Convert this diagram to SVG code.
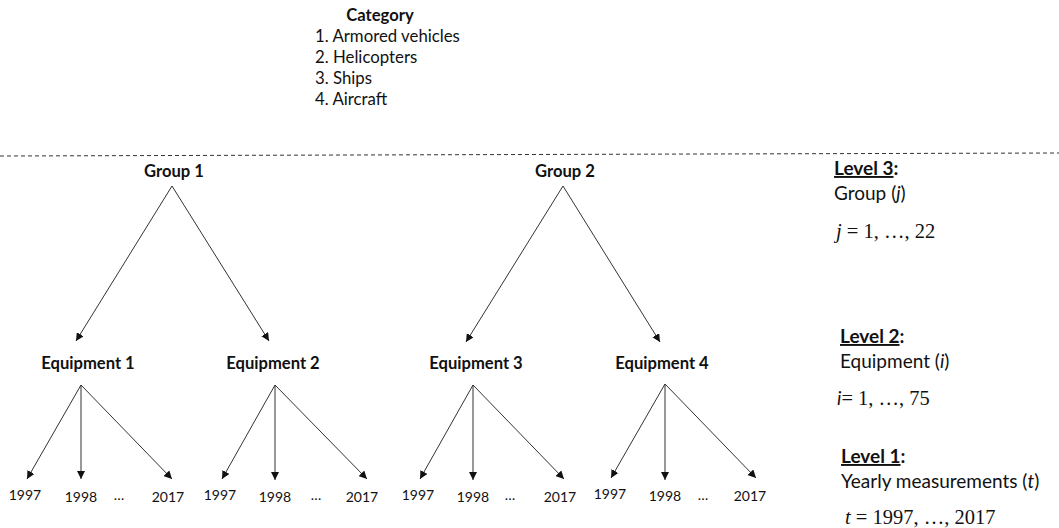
<svg xmlns="http://www.w3.org/2000/svg" width="1059" height="528" viewBox="0 0 1059 528">
<style>
text{font-family:Lato,"Open Sans","Liberation Sans",sans-serif;fill:#111}
.b{font-weight:bold;font-size:16.6px}
.cat{font-size:16.8px}
.yr{font-size:14px}
.lv{font-size:19px}
.m{font-family:"Liberation Serif","DejaVu Serif",serif;font-size:20.5px}
.c line{stroke:#333;stroke-width:1}
</style>
<defs>
<marker id="ah" viewBox="0 0 10 10" refX="10" refY="5" markerWidth="8" markerHeight="8" orient="auto" markerUnits="userSpaceOnUse">
<path d="M0,0 L10,5 L0,10 z" fill="#111"/>
</marker>
</defs>
<line x1="0" y1="156" x2="1059" y2="153" stroke="#333" stroke-width="1" stroke-dasharray="4,3"/>
<g id="category">
<text class="b" x="380" y="21" text-anchor="middle">Category</text>
<text class="cat" x="315" y="42">1. Armored vehicles</text>
<text class="cat" x="315" y="63">2. Helicopters</text>
<text class="cat" x="315" y="84">3. Ships</text>
<text class="cat" x="315" y="105">4. Aircraft</text>
</g>
<g id="group1"><text class="b" x="174" y="177" text-anchor="middle">Group 1</text></g>
<g id="group2"><text class="b" x="565" y="177" text-anchor="middle">Group 2</text></g>
<g id="equipment1"><text class="b" x="88" y="369" text-anchor="middle">Equipment 1</text></g>
<g id="equipment2"><text class="b" x="273" y="369" text-anchor="middle">Equipment 2</text></g>
<g id="equipment3"><text class="b" x="476" y="369" text-anchor="middle">Equipment 3</text></g>
<g id="equipment4"><text class="b" x="662" y="369" text-anchor="middle">Equipment 4</text></g>
<g id="years1">
<text class="yr" x="25" y="500" text-anchor="middle">1997</text>
<text class="yr" x="81" y="502" text-anchor="middle">1998</text>
<text class="yr" x="119" y="500" text-anchor="middle">…</text>
<text class="yr" x="168" y="502" text-anchor="middle">2017</text>
</g>
<g id="years2">
<text class="yr" x="220" y="500" text-anchor="middle">1997</text>
<text class="yr" x="275" y="502" text-anchor="middle">1998</text>
<text class="yr" x="316" y="500" text-anchor="middle">…</text>
<text class="yr" x="362" y="502" text-anchor="middle">2017</text>
</g>
<g id="years3">
<text class="yr" x="418" y="500" text-anchor="middle">1997</text>
<text class="yr" x="473" y="502" text-anchor="middle">1998</text>
<text class="yr" x="510" y="500" text-anchor="middle">…</text>
<text class="yr" x="560" y="502" text-anchor="middle">2017</text>
</g>
<g id="years4">
<text class="yr" x="610" y="499" text-anchor="middle">1997</text>
<text class="yr" x="665" y="501" text-anchor="middle">1998</text>
<text class="yr" x="703" y="500" text-anchor="middle">…</text>
<text class="yr" x="750" y="501" text-anchor="middle">2017</text>
</g>
<g id="legend">
<text class="lv" x="834" y="175"><tspan font-weight="bold" text-decoration="underline">Level 3</tspan><tspan font-weight="bold">:</tspan></text>
<text class="lv" x="834" y="200">Group (<tspan font-style="italic">j</tspan>)</text>
<text class="m" x="836" y="238"><tspan font-style="italic">j</tspan> = 1, …, 22</text>
<text class="lv" x="840" y="343"><tspan font-weight="bold" text-decoration="underline">Level 2</tspan><tspan font-weight="bold">:</tspan></text>
<text class="lv" x="840" y="368">Equipment (<tspan font-style="italic">i</tspan>)</text>
<text class="m" x="837" y="405"><tspan font-style="italic" font-family="Lato,sans-serif" font-size="19">i</tspan>= 1, …, 75</text>
<text class="lv" x="841" y="463"><tspan font-weight="bold" text-decoration="underline">Level 1</tspan><tspan font-weight="bold">:</tspan></text>
<text class="lv" x="841" y="488">Yearly measurements (<tspan font-style="italic">t</tspan>)</text>
<text class="m" x="845" y="524"><tspan font-style="italic">t</tspan> = 1997, …, 2017</text>
</g>
<g id="connectors" class="c">
<line x1="172" y1="186" x2="76" y2="341" marker-end="url(#ah)"/>
<line x1="172" y1="186" x2="269" y2="341" marker-end="url(#ah)"/>
<line x1="563" y1="186" x2="466" y2="342" marker-end="url(#ah)"/>
<line x1="563" y1="186" x2="660" y2="342" marker-end="url(#ah)"/>
<line x1="81" y1="385" x2="27" y2="479" marker-end="url(#ah)"/>
<line x1="81" y1="385" x2="81" y2="479" marker-end="url(#ah)"/>
<line x1="81" y1="385" x2="172" y2="479" marker-end="url(#ah)"/>
<line x1="275" y1="385" x2="222" y2="479" marker-end="url(#ah)"/>
<line x1="275" y1="385" x2="275" y2="480" marker-end="url(#ah)"/>
<line x1="275" y1="385" x2="367" y2="479" marker-end="url(#ah)"/>
<line x1="473" y1="385" x2="420" y2="479" marker-end="url(#ah)"/>
<line x1="473" y1="385" x2="473" y2="480" marker-end="url(#ah)"/>
<line x1="473" y1="385" x2="564" y2="479" marker-end="url(#ah)"/>
<line x1="665" y1="384" x2="611" y2="478" marker-end="url(#ah)"/>
<line x1="665" y1="384" x2="665" y2="480" marker-end="url(#ah)"/>
<line x1="665" y1="384" x2="756" y2="478" marker-end="url(#ah)"/>
</g>
</svg>
